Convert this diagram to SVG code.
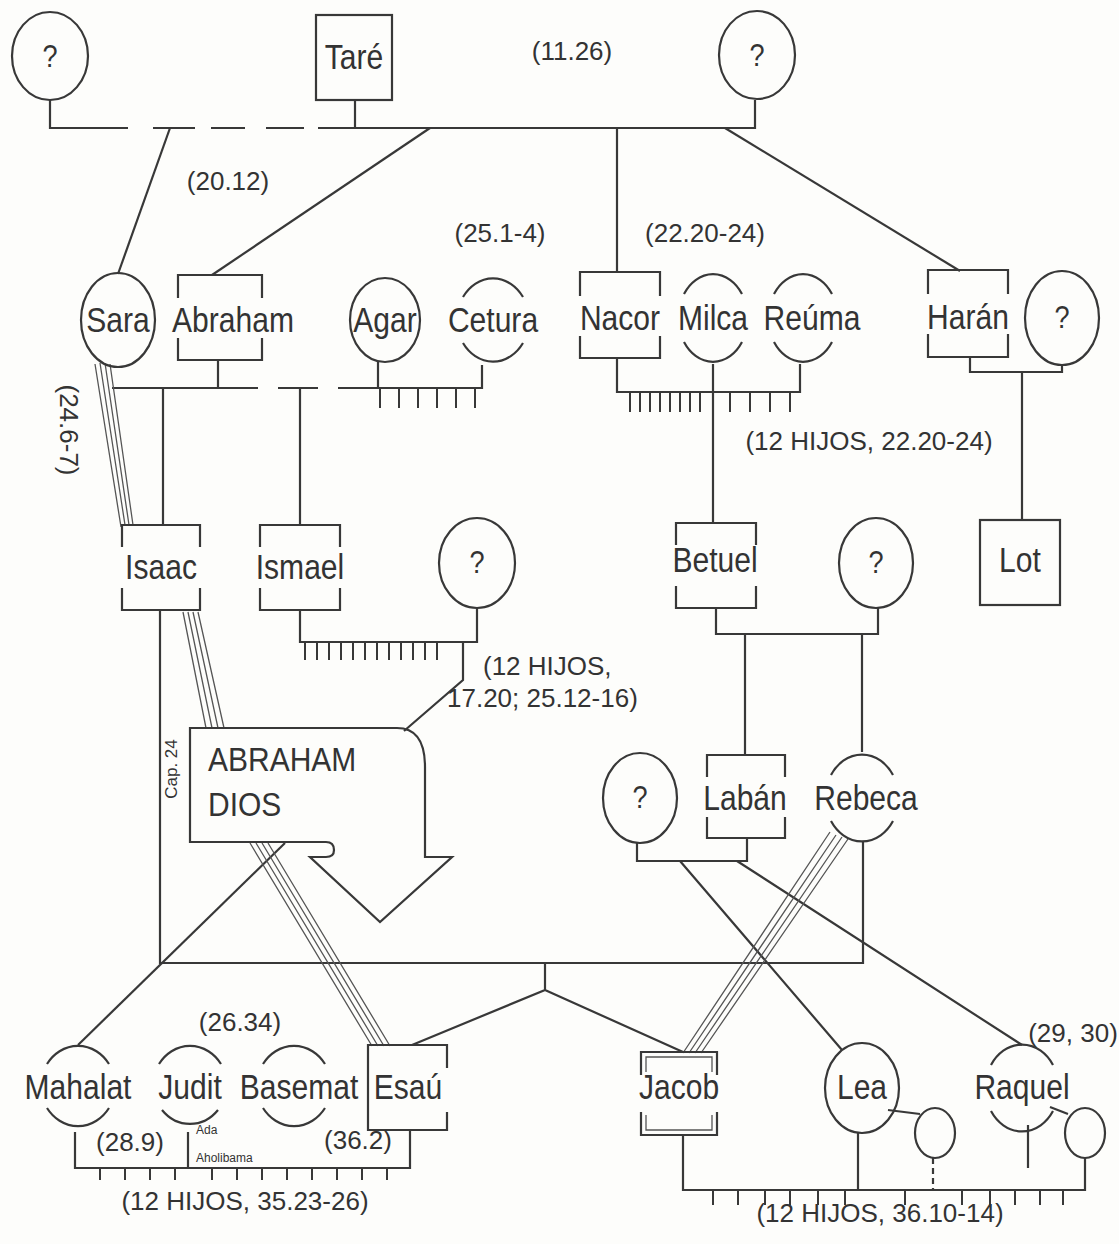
<svg xmlns="http://www.w3.org/2000/svg" width="1119" height="1244" viewBox="0 0 1119 1244">
<style>
.bg{fill:#fdfdfb}
.sh{fill:none;stroke:#383838;stroke-width:2.2}
.ln{fill:none;stroke:#383838;stroke-width:2.2}
.tk{fill:none;stroke:#383838;stroke-width:2}
.bd{fill:none;stroke:#555;stroke-width:1.3}
.nm{font-family:"Liberation Sans",Arial,sans-serif;font-size:31px;fill:#333;text-anchor:middle}
.q{font-size:28px}
.rf{font-family:"Liberation Sans",Arial,sans-serif;font-size:26px;fill:#333;text-anchor:middle}
.cap{font-size:17px}
.sm{font-family:"Liberation Sans",Arial,sans-serif;font-size:12px;fill:#333}
.big{font-family:"Liberation Sans",Arial,sans-serif;font-size:30px;fill:#333}
</style>
<rect class="bg" x="0" y="0" width="1119" height="1244"/>

<g id="connectors">
  <path class="ln" d="M50,100 V128 H128 M153,128 H195 M211,128 H245 M266,128 H304 M318,128 H755 V100"/>
  <path class="ln" d="M355,100 V128"/>
  <path class="ln" d="M170,128 L118,274"/>
  <path class="ln" d="M430,128 L212,275"/>
  <path class="ln" d="M617,128 V272"/>
  <path class="ln" d="M725,128 L960,271"/>
  <path class="ln" d="M112,388 H258 M278,388 H318 M338,388 H482 V365"/>
  <path class="ln" d="M218,360 V388 M378,362 V388"/>
  <path class="tk" d="M380,388 V408 M399,388 V408 M418,388 V408 M437,388 V408 M456,388 V408 M475,388 V408"/>
  <path class="ln" d="M163,388 V525 M300,388 V525"/>
  <path class="ln" d="M617,358 V392 H800 V364 M713,364 V523"/>
  <path class="tk" d="M630,392 V412 M640,392 V412 M650,392 V412 M660,392 V412 M670,392 V412 M680,392 V412 M690,392 V412 M700,392 V412 M730,392 V412 M750,392 V412 M770,392 V412 M790,392 V412"/>
  <path class="ln" d="M970,357 V372 H1062 V365 M1022,372 V520"/>
  <path class="ln" d="M300,610 V642 H477 V608 M463,642 V680 L404,731"/>
  <path class="tk" d="M305,642 V660 M317,642 V660 M329,642 V660 M341,642 V660 M353,642 V660 M365,642 V660 M377,642 V660 M389,642 V660 M401,642 V660 M413,642 V660 M425,642 V660 M437,642 V660"/>
  <path class="ln" d="M716,608 V634 H878 V608 M745,634 V755 M862,634 V752"/>
  <path class="ln" d="M160,610 V963 H863 V842"/>
  <path class="ln" d="M545,963 V990 L412,1045 M545,990 L683,1052"/>
  <path class="ln" d="M285,843 L78,1045"/>
  <path class="ln" d="M637,843 V861 H747 V838"/>
  <path class="ln" d="M680,861 L842,1050 M737,861 L1022,1045"/>
  <path class="bd" d="M95,364 L121,527 M100,363 L125,525 M105,363 L129,525 M110,364 L133,525"/>
  <path class="bd" d="M183,612 L206,728 M188,612 L212,728 M193,612 L218,728 M198,612 L224,728"/>
  <path class="bd" d="M250,843 L372,1046 M256,843 L378,1046 M262,843 L384,1046 M268,843 L390,1046"/>
  <path class="bd" d="M830,832 L683,1053 M836,835 L689,1053 M842,837 L695,1053 M848,839 L701,1053"/>
  <path class="ln" d="M75,1132 V1168 H410 V1130 M188,1132 V1168"/>
  <path class="tk" d="M100,1168 V1180 M125,1168 V1180 M150,1168 V1180 M175,1168 V1180 M212,1168 V1180 M237,1168 V1180 M262,1168 V1180 M287,1168 V1180 M312,1168 V1180 M337,1168 V1180 M362,1168 V1180 M387,1168 V1180"/>
  <path class="ln" d="M683,1135 V1190 H1085 V1158 M858,1133 V1190 M1028,1125 V1168"/>
  <path class="ln" d="M933,1158 V1190" stroke-dasharray="6 4"/>
  <path class="ln" d="M888,1110 L920,1114 M1050,1107 L1068,1114"/>
  <path class="tk" d="M713,1190 V1205 M738,1190 V1205 M765,1190 V1205 M790,1190 V1205 M818,1190 V1205 M845,1190 V1205 M905,1190 V1205 M962,1190 V1205 M990,1190 V1205 M1015,1190 V1205 M1040,1190 V1205 M1063,1190 V1205"/>
</g>

<g id="n-q1"><ellipse class="sh" cx="50" cy="56" rx="38" ry="44"/><text class="nm q" transform="translate(50,67) scale(0.97,1.13)">?</text></g>
<g id="n-tare"><rect class="sh" x="316" y="15" width="76" height="85"/><text class="nm" transform="translate(354,69) scale(0.97,1.13)">Taré</text></g>
<g id="n-q2"><ellipse class="sh" cx="757" cy="55" rx="38" ry="44"/><text class="nm q" transform="translate(757,66) scale(0.97,1.13)">?</text></g>

<g id="n-sara"><ellipse class="sh" cx="118" cy="320" rx="37" ry="47"/><text class="nm" transform="translate(118,332) scale(0.97,1.13)">Sara</text></g>
<g id="n-abraham"><path class="sh" d="M178,298 V275 H262 V298 M178,338 V360 H262 V338"/><text class="nm" transform="translate(233,332) scale(0.97,1.13)">Abraham</text></g>
<g id="n-agar"><ellipse class="sh" cx="385" cy="320" rx="35" ry="42"/><text class="nm" transform="translate(385,332) scale(0.97,1.13)">Agar</text></g>
<g id="n-cetura"><path class="sh" d="M463,297 A37,45 0 0 1 523,297 M463,343 A37,45 0 0 0 523,343"/><text class="nm" transform="translate(493,332) scale(0.97,1.13)">Cetura</text></g>
<g id="n-nacor"><path class="sh" d="M580,296 V272 H660 V296 M580,336 V358 H660 V336"/><text class="nm" transform="translate(620,330) scale(0.97,1.13)">Nacor</text></g>
<g id="n-milca"><path class="sh" d="M684,294 A35,45 0 0 1 742,294 M684,342 A35,45 0 0 0 742,342"/><text class="nm" transform="translate(713,330) scale(0.97,1.13)">Milca</text></g>
<g id="n-reuma"><path class="sh" d="M774,294 A35,45 0 0 1 832,294 M774,342 A35,45 0 0 0 832,342"/><text class="nm" transform="translate(812,330) scale(0.97,1.13)">Reúma</text></g>
<g id="n-haran"><path class="sh" d="M928,294 V270 H1008 V294 M928,334 V357 H1008 V334"/><text class="nm" transform="translate(968,329) scale(0.97,1.13)">Harán</text></g>
<g id="n-q3"><ellipse class="sh" cx="1062" cy="318" rx="37" ry="47"/><text class="nm q" transform="translate(1062,328) scale(0.97,1.13)">?</text></g>

<text class="rf" x="228" y="190">(20.12)</text>
<text class="rf" x="572" y="60">(11.26)</text>
<text class="rf" x="500" y="242">(25.1-4)</text>
<text class="rf" x="705" y="242">(22.20-24)</text>
<text class="rf" transform="translate(60,430) rotate(90)">(24.6-7)</text>
<text class="rf" x="869" y="450">(12 HIJOS, 22.20-24)</text>

<g id="n-isaac"><path class="sh" d="M122,547 V525 H200 V547 M122,588 V610 H200 V588"/><text class="nm" transform="translate(161,579) scale(0.97,1.13)">Isaac</text></g>
<g id="n-ismael"><path class="sh" d="M260,547 V525 H340 V547 M260,588 V610 H340 V588"/><text class="nm" transform="translate(300,579) scale(0.97,1.13)">Ismael</text></g>
<g id="n-q4"><ellipse class="sh" cx="477" cy="563" rx="38" ry="45"/><text class="nm q" transform="translate(477,573) scale(0.97,1.13)">?</text></g>
<g id="n-betuel"><path class="sh" d="M676,545 V523 H756 V545 M676,586 V608 H756 V586"/><text class="nm" transform="translate(715,572) scale(0.97,1.13)">Betuel</text></g>
<g id="n-q5"><ellipse class="sh" cx="876" cy="563" rx="37" ry="45"/><text class="nm q" transform="translate(876,573) scale(0.97,1.13)">?</text></g>
<g id="n-lot"><rect class="sh" x="980" y="520" width="80" height="85"/><text class="nm" transform="translate(1020,572) scale(0.97,1.13)">Lot</text></g>

<text class="rf" x="483" y="675" style="text-anchor:start">(12 HIJOS,</text>
<text class="rf" x="447" y="707" style="text-anchor:start">17.20; 25.12-16)</text>

<g id="n-abraham-dios">
  <path class="sh" d="M190,728 H397 Q425,728 425,767 V857 H452 L380,922 L310,857 H326 Q334,857 334,850 Q334,842 326,842 H190 Z"/>
  <text class="big" transform="translate(208,771) scale(1,1.1)">ABRAHAM</text>
  <text class="big" transform="translate(208,816) scale(1,1.1)">DIOS</text>
</g>
<text class="rf cap" transform="translate(177,769) rotate(-90)">Cap. 24</text>

<g id="n-q6"><ellipse class="sh" cx="640" cy="798" rx="37" ry="45"/><text class="nm q" transform="translate(640,808) scale(0.97,1.13)">?</text></g>
<g id="n-laban"><path class="sh" d="M707,777 V755 H785 V777 M707,817 V838 H785 V817"/><text class="nm" transform="translate(745,810) scale(0.97,1.13)">Labán</text></g>
<g id="n-rebeca"><path class="sh" d="M831,775 A37,45 0 0 1 893,775 M831,821 A37,45 0 0 0 893,821"/><text class="nm" transform="translate(866,810) scale(0.97,1.13)">Rebeca</text></g>

<text class="rf" x="240" y="1031">(26.34)</text>
<text class="rf" x="1073" y="1042">(29, 30)</text>

<g id="n-mahalat"><path class="sh" d="M47,1064 A38,43 0 0 1 109,1064 M47,1108 A38,43 0 0 0 109,1108"/><text class="nm" transform="translate(78,1099) scale(0.97,1.13)">Mahalat</text></g>
<g id="n-judit"><path class="sh" d="M159,1064 A38,43 0 0 1 221,1064 M162,1110 A38,43 0 0 0 218,1110"/><text class="nm" transform="translate(190,1099) scale(0.97,1.13)">Judit</text></g>
<g id="n-basemat"><path class="sh" d="M263,1064 A38,43 0 0 1 325,1064 M263,1108 A38,43 0 0 0 325,1108"/><text class="nm" transform="translate(299,1099) scale(0.97,1.13)">Basemat</text></g>
<g id="n-esau"><path class="sh" d="M447,1068 V1045 H368 V1130 H447 V1112"/><text class="nm" transform="translate(408,1099) scale(0.97,1.13)">Esaú</text></g>
<g id="n-jacob"><path class="sh" d="M641,1075 V1052 H717 V1075 M641,1112 V1135 H717 V1112"/><path class="bd" d="M646,1072 V1057 H712 V1072 M646,1115 V1130 H712 V1115"/><text class="nm" transform="translate(679,1099) scale(0.97,1.13)">Jacob</text></g>
<g id="n-lea"><ellipse class="sh" cx="862" cy="1088" rx="37" ry="45"/><text class="nm" transform="translate(862,1099) scale(0.97,1.13)">Lea</text></g>
<g id="n-s1"><ellipse class="sh" cx="935" cy="1133" rx="20" ry="25"/></g>
<g id="n-raquel"><path class="sh" d="M991,1065 A37,45 0 0 1 1053,1065 M991,1111 A37,45 0 0 0 1053,1111"/><text class="nm" transform="translate(1022,1099) scale(0.97,1.13)">Raquel</text></g>
<g id="n-s2"><ellipse class="sh" cx="1085" cy="1133" rx="20" ry="25"/></g>

<text class="sm" x="196" y="1134">Ada</text>
<text class="sm" x="196" y="1162">Aholibama</text>
<text class="rf" x="130" y="1151">(28.9)</text>
<text class="rf" x="358" y="1149">(36.2)</text>
<text class="rf" x="245" y="1210">(12 HIJOS, 35.23-26)</text>
<text class="rf" x="880" y="1222">(12 HIJOS, 36.10-14)</text>
</svg>
